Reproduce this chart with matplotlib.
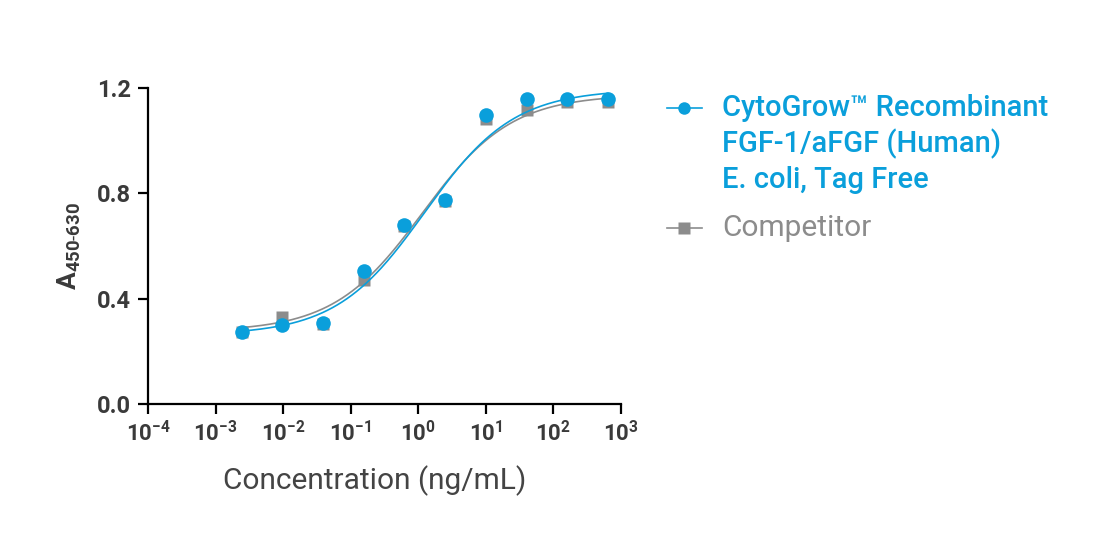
import matplotlib.pyplot as plt
import numpy as np
from matplotlib.lines import Line2D

plt.rcParams['font.family'] = ['Roboto', 'DejaVu Sans']
plt.rcParams['mathtext.fontset'] = 'custom'
plt.rcParams['mathtext.rm'] = 'Roboto'
plt.rcParams['mathtext.bf'] = 'Roboto:bold'

BLUE = '#0a9fdb'
GRAY = '#8c8c8c'
DARK = '#3a3a3a'

# concentrations (ng/mL), 4-fold dilution series
conc = [0.00244, 0.00977, 0.0391, 0.156, 0.625, 2.5, 10, 40, 160, 640]
cytogrow = [0.275, 0.300, 0.307, 0.506, 0.678, 0.773, 1.096, 1.160, 1.160, 1.158]
competitor = [0.272, 0.332, 0.305, 0.471, 0.675, 0.770, 1.082, 1.118, 1.147, 1.147]

# 4PL fit parameters (bottom, top, EC50, hill)
fit_cytogrow = (0.262, 1.195, 1.25, 0.66)
fit_competitor = (0.275, 1.175, 1.15, 0.66)

xticks = [1e-4, 1e-3, 1e-2, 1e-1, 1e0, 1e1, 1e2, 1e3]
xticklabels = [r'$\mathbf{10^{-4}}$', r'$\mathbf{10^{-3}}$', r'$\mathbf{10^{-2}}$',
               r'$\mathbf{10^{-1}}$', r'$\mathbf{10^{0}}$', r'$\mathbf{10^{1}}$',
               r'$\mathbf{10^{2}}$', r'$\mathbf{10^{3}}$']
yticks = [0.0, 0.4, 0.8, 1.2]
legend_blue = ['CytoGrow\u2122 Recombinant', 'FGF-1/aFGF (Human)', 'E. coli, Tag Free']
legend_gray = 'Competitor'


def four_pl(x, bottom, top, ec50, hill):
    return bottom + (top - bottom) / (1 + (ec50 / x) ** hill)


fig = plt.figure(figsize=(11.04, 5.34), dpi=100)
ax = fig.add_axes([0.134, 0.2434, 0.4285, 0.5918])

xs = np.logspace(np.log10(conc[0]), np.log10(conc[-1]), 300)
ax.plot(xs, four_pl(xs, *fit_competitor), color=GRAY, lw=1.2, zorder=2)
ax.plot(conc, competitor, 's', color=GRAY, ms=9, mec='none', zorder=3)
ax.plot(xs, four_pl(xs, *fit_cytogrow), color=BLUE, lw=1.2, zorder=4)
ax.plot(conc, cytogrow, 'o', color=BLUE, ms=10.5, mec='none', zorder=5)

ax.set_xscale('log')
ax.set_xlim(1e-4, 1e3)
ax.set_ylim(0, 1.2)
ax.set_xticks(xticks)
ax.set_xticklabels(xticklabels)
ax.xaxis.set_minor_locator(plt.NullLocator())
ax.set_yticks(yticks)
ax.set_yticklabels([f'{v:.1f}' for v in yticks], fontweight='bold')

for s in ['top', 'right']:
    ax.spines[s].set_visible(False)
for s in ['left', 'bottom']:
    ax.spines[s].set_linewidth(1.6)
    ax.spines[s].set_color('black')
ax.tick_params(direction='out', length=7, width=1.6, colors='black',
               labelcolor=DARK, labelsize=16, pad=5)
ax.tick_params(axis='y', labelsize=17)

ax.set_xlabel('Concentration (ng/mL)', fontsize=21.5, color='#444444')
ax.xaxis.set_label_coords(0.48, -0.195)
ax.set_ylabel(r'$\mathbf{A_{450\text{-}630}}$', fontsize=19, color=DARK, labelpad=10)

# legend drawn by hand so the marker lines up with the first text line
H = 534.0
y_first = 1 - 108 / H
fig.add_artist(Line2D([0.604, 0.636], [y_first, y_first], color=BLUE, lw=1.2,
                      transform=fig.transFigure))
fig.add_artist(Line2D([0.620], [y_first], color=BLUE, marker='o', ms=9, mec='none',
                      transform=fig.transFigure))
for i, line in enumerate(legend_blue):
    fig.text(0.654, 1 - (108 + 36 * i) / H, line, color=BLUE, fontsize=21,
             fontweight='medium', va='center', ha='left')

y_gray = 1 - 228 / H
fig.add_artist(Line2D([0.604, 0.636], [y_gray, y_gray], color=GRAY, lw=1.2,
                      transform=fig.transFigure))
fig.add_artist(Line2D([0.620], [y_gray], color=GRAY, marker='s', ms=8, mec='none',
                      transform=fig.transFigure))
fig.text(0.654, y_gray, legend_gray, color=GRAY, fontsize=21.5, va='center', ha='left')

fig.savefig('out.png', dpi=100, facecolor='white')
